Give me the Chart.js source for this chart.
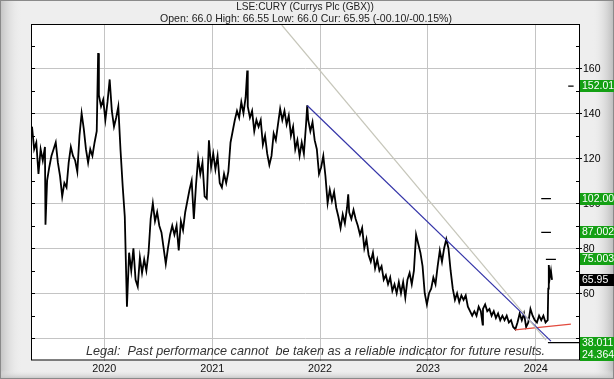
<!DOCTYPE html>
<html>
<head>
<meta charset="utf-8">
<title>LSE:CURY</title>
<script src="https://cdn.jsdelivr.net/npm/chart.js@4.4.1/dist/chart.umd.min.js"></script>
<style>
    html, body { margin: 0; padding: 0; background: #eeeeee; overflow: hidden; }
    #cury { display: block; }
</style>
</head>
<body>
<canvas id="cury" width="614" height="379"></canvas>
<script>
/* ======================================
   Currys Plc (LSE:CURY) - price chart
   ====================================== */

// weekly closes, dates as decimal years
const dates = [
    2019.33, 2019.35, 2019.37, 2019.39, 2019.41, 2019.43, 2019.45, 2019.455, 2019.47, 2019.49,
    2019.51, 2019.53, 2019.55, 2019.57, 2019.59, 2019.61, 2019.63, 2019.65, 2019.67, 2019.69,
    2019.71, 2019.73, 2019.75, 2019.77, 2019.79, 2019.81, 2019.83, 2019.85, 2019.87, 2019.89,
    2019.91, 2019.93, 2019.943, 2019.95, 2019.97, 2019.99,
    2020.01, 2020.03, 2020.05, 2020.07, 2020.09, 2020.11, 2020.13, 2020.15, 2020.17, 2020.19,
    2020.21, 2020.23, 2020.25, 2020.27, 2020.29, 2020.31, 2020.33, 2020.35, 2020.37, 2020.39,
    2020.41, 2020.43, 2020.45, 2020.47, 2020.49, 2020.51, 2020.53, 2020.55, 2020.57, 2020.59,
    2020.61, 2020.63, 2020.65, 2020.67, 2020.69, 2020.71, 2020.73, 2020.75, 2020.77, 2020.79,
    2020.81, 2020.83, 2020.85, 2020.87, 2020.89, 2020.91, 2020.93, 2020.95, 2020.97, 2020.99,
    2021.01, 2021.03, 2021.05, 2021.07, 2021.09, 2021.11, 2021.13, 2021.15, 2021.17, 2021.19,
    2021.21, 2021.23, 2021.25, 2021.27, 2021.29, 2021.31, 2021.325, 2021.33, 2021.35, 2021.37,
    2021.39, 2021.41, 2021.43, 2021.45, 2021.47, 2021.49, 2021.51, 2021.53, 2021.55, 2021.57,
    2021.59, 2021.61, 2021.63, 2021.65, 2021.67, 2021.69, 2021.71, 2021.73, 2021.75, 2021.77,
    2021.79, 2021.81, 2021.83, 2021.85, 2021.87, 2021.881, 2021.89, 2021.91, 2021.93, 2021.95,
    2021.97, 2021.99,
    2022.01, 2022.03, 2022.05, 2022.07, 2022.09, 2022.11, 2022.13, 2022.15, 2022.17, 2022.19,
    2022.21, 2022.23, 2022.25, 2022.261, 2022.27, 2022.29, 2022.31, 2022.33, 2022.35, 2022.37,
    2022.39, 2022.41, 2022.43, 2022.45, 2022.47, 2022.49, 2022.51, 2022.53, 2022.55, 2022.57,
    2022.59, 2022.61, 2022.63, 2022.65, 2022.67, 2022.69, 2022.71, 2022.73, 2022.75, 2022.77,
    2022.79, 2022.81, 2022.83, 2022.85, 2022.87, 2022.89, 2022.91, 2022.93, 2022.95, 2022.97,
    2022.99,
    2023.01, 2023.03, 2023.05, 2023.07, 2023.09, 2023.11, 2023.13, 2023.15, 2023.17, 2023.19,
    2023.21, 2023.23, 2023.25, 2023.27, 2023.29, 2023.31, 2023.33, 2023.35, 2023.37, 2023.39,
    2023.41, 2023.43, 2023.45, 2023.47, 2023.49, 2023.507, 2023.51, 2023.53, 2023.55, 2023.57,
    2023.59, 2023.61, 2023.63, 2023.65, 2023.67, 2023.69, 2023.71, 2023.73, 2023.75, 2023.77,
    2023.79, 2023.81, 2023.83, 2023.85, 2023.87, 2023.89, 2023.91, 2023.93, 2023.95, 2023.97,
    2023.99,
    2024.01, 2024.03, 2024.05, 2024.07, 2024.09, 2024.11, 2024.115, 2024.12, 2024.13, 2024.14,
    2024.15
];

const close = [
    134, 124, 127, 113, 124, 119, 125, 90.4, 110, 116,
    121, 124, 127, 118, 112, 103, 109, 107, 118, 125,
    121, 119, 114, 130, 140, 133, 124, 118, 124, 121,
    127, 132, 166.7, 148, 143, 146,
    137, 145, 155, 141, 134, 138, 143, 124, 108, 94,
    54, 78, 70, 80, 66, 63, 76, 69, 75, 70,
    78, 93, 100, 92, 96, 90, 87, 80, 73, 80,
    86, 90, 86, 90, 79, 92, 88, 96, 101, 106,
    110, 93, 108, 120, 113, 118, 103, 102, 128, 116,
    122, 115, 121, 109, 107, 113, 109, 114, 127, 132,
    137, 141, 138, 145, 140, 147, 159, 143, 138, 141,
    132, 137, 134, 137, 126, 130, 122, 117, 121, 131,
    128, 135, 142, 137, 141, 135, 139, 130, 134, 124,
    128, 121, 127, 122, 135, 143.5, 137, 132, 136, 128,
    124, 113,
    116, 121, 112, 100, 106, 101, 105, 98, 94, 89,
    95, 91, 98, 104, 96, 93, 97, 93, 90, 86,
    89, 80, 84, 77, 74, 78, 71, 75, 70, 72,
    66, 68, 64, 67, 61, 64, 60, 65, 60, 65,
    58, 66, 69, 64, 70, 86, 82, 78, 72, 60,
    55,
    60, 62, 67, 64, 72, 79, 74, 80, 84, 80,
    70, 62, 57, 60, 56, 59, 57, 59, 54, 52,
    50, 52, 50, 54, 52, 46, 53, 55, 52, 53,
    50, 52, 49, 51, 48, 50, 48, 50, 47, 48,
    45, 44, 47, 51, 48, 51, 45, 47, 53, 50,
    48,
    47, 50, 48, 50, 47, 48, 62, 72.5, 67, 70,
    65.95
];

// trend lines, [date, price] at each end
const grayTrend = [[2021.645, 179.2], [2024.094, 39.2]];
const blueTrend = [[2021.881, 143.4], [2024.14, 38.7]];
const redTrend = [[2023.806, 43.7], [2024.325, 46.3]];

// target levels and where their marker dashes sit (dates)
const targetValues = [152.01, 102.00, 87.002, 75.003, 38.011, 24.364];
const targetFrom = [2024.30, 2024.05, 2024.05, 2024.093, 2024.112, null];
const targetTo = [2024.35, 2024.14, 2024.14, 2024.186, 2024.40, null];

const currentPrice = 65.95;
const yearTicks = [2020, 2021, 2022, 2023, 2024];
const priceTicks = [40, 60, 80, 100, 120, 140, 160];
const priceLabels = [60, 80, 100, 120, 140, 160];

const titleText = "LSE:CURY (Currys Plc (GBX))";
const quoteText = "Open: 66.0 High: 66.55 Low: 66.0 Cur: 65.95 (-00.10/-00.15%)";
const legalText = "Legal:  Past performance cannot  be taken as a reliable indicator for future results.";

const FONT = "'Liberation Sans', Arial, sans-serif";

// font string sized so that text spans the given width
function fitFont(ctx, text, width, style) {
    ctx.font = style + " 20px " + FONT;
    const size = 20 * width / ctx.measureText(text).width;
    return style + " " + size.toFixed(2) + "px " + FONT;
}

function segment(points, color) {
    return {
        data: points.map(p => ({ x: p[0], y: p[1] })),
        borderColor: color,
        borderWidth: 1.2,
        pointRadius: 0,
        order: 1
    };
}

// Background, frame, axis text and level boxes
const framePlugin = {
    id: "frame",
    beforeDraw(chart) {
        const { ctx, chartArea: a, width: W, height: H } = chart;
        ctx.save();
        ctx.fillStyle = "#eeeeee";
        ctx.fillRect(0, 0, W, H);

        let g = ctx.createLinearGradient(0, 0, 22, 0);
        g.addColorStop(0, "#c2c2c2");
        g.addColorStop(1, "rgba(238,238,238,0)");
        ctx.fillStyle = g;
        ctx.fillRect(0, 0, 22, H);

        g = ctx.createLinearGradient(592, 0, W, 0);
        g.addColorStop(0, "rgba(238,238,238,0)");
        g.addColorStop(1, "#bababa");
        ctx.fillStyle = g;
        ctx.fillRect(592, 0, W - 592, H);

        g = ctx.createLinearGradient(0, H - 9, 0, H);
        g.addColorStop(0, "rgba(238,238,238,0)");
        g.addColorStop(1, "#c0c0c0");
        ctx.fillStyle = g;
        ctx.fillRect(0, H - 9, W, 9);

        ctx.strokeStyle = "#8a8a8a";
        ctx.lineWidth = 1;
        ctx.strokeRect(0.5, 0.5, W - 1, H - 1);

        ctx.fillStyle = "#ffffff";
        ctx.fillRect(a.left, a.top, a.right - a.left, a.bottom - a.top);

        // title lines
        ctx.fillStyle = "#222";
        ctx.textAlign = "center";
        ctx.textBaseline = "middle";
        ctx.font = fitFont(ctx, titleText, 138, "normal");
        ctx.fillText(titleText, 305, 7);
        ctx.font = fitFont(ctx, quoteText, 292, "normal");
        ctx.fillText(quoteText, 306, 19);
        ctx.restore();
    },
    afterDatasetsDraw(chart) {
        const { ctx, chartArea: a, width: W } = chart;
        const xs = chart.scales.x;
        const ys = chart.scales.y;
        ctx.save();

        // plot box
        ctx.strokeStyle = "#000";
        ctx.lineWidth = 1;
        ctx.strokeRect(a.left - 0.5, a.top - 0.5, a.right - a.left + 1, a.bottom - a.top);

        // tick marks every 10
        ctx.beginPath();
        for (let v = 40; v <= 170; v += 10) {
            const y = Math.round(ys.getPixelForValue(v)) + 0.5;
            ctx.moveTo(a.left, y);
            ctx.lineTo(a.left + 3, y);
            const major = priceTicks.includes(v);
            ctx.moveTo(a.right - 3, y);
            ctx.lineTo(a.right + (major ? 3 : 0), y);
        }
        ctx.stroke();

        // right axis labels
        ctx.fillStyle = "#000";
        ctx.textAlign = "left";
        ctx.textBaseline = "middle";
        ctx.font = "10.5px " + FONT;
        priceLabels.forEach(v => {
            ctx.fillText(String(v), a.right + 4, ys.getPixelForValue(v) + 0.5);
        });

        // year labels
        ctx.textAlign = "center";
        ctx.font = "10.8px " + FONT;
        ctx.fillStyle = "#111";
        yearTicks.forEach(yr => {
            ctx.fillText(String(yr), xs.getPixelForValue(yr), 369);
        });

        // legal note
        ctx.fillStyle = "#333";
        ctx.font = fitFont(ctx, legalText, 459, "italic");
        ctx.fillText(legalText, 315.5, 351);

        // level boxes
        ctx.textAlign = "left";
        ctx.font = "10.5px " + FONT;
        const boxes = targetValues.map(v => ({ v: v, text: v.toFixed(3), color: "#14a014" }));
        boxes.push({ v: currentPrice, text: currentPrice.toFixed(2), color: "#000" });
        boxes.forEach(b => {
            let y = ys.getPixelForValue(b.v);
            y = Math.min(Math.max(y, a.top + 6), a.bottom - 6);
            ctx.fillStyle = b.color;
            ctx.fillRect(a.right + 1, Math.round(y - 6), W - a.right - 1, 12);
            ctx.fillStyle = "#fff";
            ctx.fillText(b.text, a.right + 3, Math.round(y - 6) + 6.5);
        });
        ctx.restore();
    }
};

const datasets = [
    {
        data: dates.map((d, i) => ({ x: d, y: close[i] })),
        borderColor: "#000",
        borderWidth: 1.8,
        pointRadius: 0,
        order: 2
    },
    segment(grayTrend, "#c6c6ba"),
    segment(blueTrend, "#3535a8"),
    segment(redTrend, "#e24a3e")
];

targetValues.forEach((v, i) => {
    if (targetFrom[i] === null) return;
    datasets.push(segment([[targetFrom[i], v], [targetTo[i], v]], "#000"));
});

new Chart(document.getElementById("cury"), {
    type: "line",
    data: { datasets: datasets },
    options: {
        responsive: false,
        animation: false,
        devicePixelRatio: 1,
        layout: { padding: { left: 32, top: 25, right: 35, bottom: 18.5 } },
        plugins: {
            legend: { display: false },
            tooltip: { enabled: false }
        },
        scales: {
            x: {
                type: "linear",
                min: 2019.33,
                max: 2024.40,
                ticks: { display: false, stepSize: 1, includeBounds: false },
                grid: { color: "#c4c4c4", drawTicks: false },
                border: { display: false }
            },
            y: {
                type: "linear",
                position: "right",
                min: 30.1,
                max: 179.2,
                ticks: { display: false, stepSize: 20, includeBounds: false },
                grid: { color: "#c4c4c4", drawTicks: false },
                border: { display: false }
            }
        }
    },
    plugins: [framePlugin]
});
</script>
</body>
</html>
